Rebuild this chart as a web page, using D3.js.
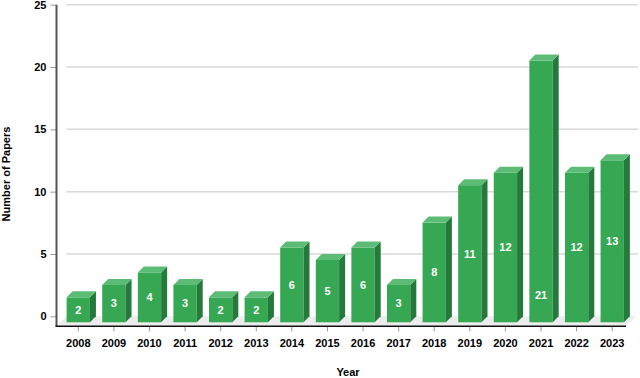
<!DOCTYPE html>
<html>
<head>
<meta charset="utf-8">
<script src="https://cdn.jsdelivr.net/npm/d3@7"></script>
<style>
  html, body { margin: 0; padding: 0; background: #fff; }
  svg { display: block; font-family: "Liberation Sans", Arial, sans-serif; }
</style>
</head>
<body>
<svg id="chart" width="640" height="378"></svg>
<script>
const years = ["2008","2009","2010","2011","2012","2013","2014","2015","2016","2017","2018","2019","2020","2021","2022","2023"];
const papers = [2, 3, 4, 3, 2, 2, 6, 5, 6, 3, 8, 11, 12, 21, 12, 13];
const yTicks = [0, 5, 10, 15, 20, 25];

const svg = d3.select("#chart");
const W = 640, H = 378;

// geometry of the 3D plot
const backLeft = 66.5, backRight = 636;
const yTopPx = 4.7, yZeroPx = 316.3;
const D = 10;   // plot depth
const d = 6;    // bar depth

const xBack = d3.scaleBand().domain(years).range([backLeft, backRight]).paddingInner(0.345).paddingOuter(0.172);
const xFront = d3.scaleBand().domain(years).range([backLeft - d, backRight - d]);
const yBack = d3.scaleLinear().domain([0, 25]).range([yZeroPx, yTopPx]);

// gridlines (back wall)
svg.append("g").selectAll("line").data(yTicks.filter(t => t > 0)).join("line")
  .attr("x1", backLeft).attr("x2", backRight + 2)
  .attr("y1", t => yBack(t)).attr("y2", t => yBack(t))
  .attr("stroke", "#d9d9d9").attr("stroke-width", 1.5);

// floor
svg.append("path")
  .attr("d", `M${backLeft},${yZeroPx}L${backRight},${yZeroPx}L${backRight - D},${yZeroPx + D}L${backLeft - D},${yZeroPx + D}Z`)
  .attr("fill", "#ececec");

// bars
const bw = xBack.bandwidth();
const bars = svg.append("g").selectAll("g").data(years.map((y, i) => ({ year: y, v: papers[i] }))).join("g");
bars.each(function (p) {
  const g = d3.select(this);
  const x = xBack(p.year) - d;
  const yt = yBack(p.v) + d;
  const yb = yBack(0) + d;
  g.append("rect").attr("x", x).attr("y", yt).attr("width", bw).attr("height", yb - yt).attr("fill", "#36a853");
  g.append("path")
    .attr("d", `M${x + bw},${yt}L${x + bw + d},${yt - d}L${x + bw + d},${yb - d}L${x + bw},${yb}Z`)
    .attr("fill", "#247a3b");
  g.append("path")
    .attr("d", `M${x},${yt}L${x + bw},${yt}L${x + bw + d},${yt - d}L${x + d},${yt - d}Z`)
    .attr("fill", "#5cbb74");
  const ly = p.v > 20 ? yb - 27 : (yt + yb) / 2;
  g.append("text")
    .attr("x", x + bw / 2).attr("y", ly).attr("dy", "0.35em")
    .attr("text-anchor", "middle").attr("fill", "#fff")
    .attr("font-weight", "bold").attr("font-size", 11)
    .text(p.v);
});

// y axis
const yAxisG = svg.append("g").attr("transform", `translate(${backLeft - D},0)`)
  .call(d3.axisLeft(yBack).tickValues(yTicks).tickSize(6).tickPadding(4));
yAxisG.select(".domain").remove();
yAxisG.selectAll(".tick line").attr("stroke", "#999");
yAxisG.selectAll(".tick text").attr("font-size", 11).attr("font-weight", "bold").attr("fill", "#000")
  .attr("font-family", "Liberation Sans, Arial, sans-serif");
svg.append("line").attr("x1", backLeft - D).attr("x2", backLeft - D)
  .attr("y1", yTopPx).attr("y2", yZeroPx + D)
  .attr("stroke", "#555").attr("stroke-width", 2);

// x axis
const xAxisG = svg.append("g").attr("transform", `translate(0,${yZeroPx + D})`)
  .call(d3.axisBottom(xFront).tickSize(5).tickPadding(8));
xAxisG.select(".domain").remove();
xAxisG.selectAll(".tick line").attr("stroke", "#999");
xAxisG.selectAll(".tick text").attr("font-size", 11).attr("font-weight", "bold").attr("fill", "#000")
  .attr("font-family", "Liberation Sans, Arial, sans-serif");
svg.append("line").attr("x1", backLeft - D - 1).attr("x2", backRight - D)
  .attr("y1", yZeroPx + D).attr("y2", yZeroPx + D)
  .attr("stroke", "#111").attr("stroke-width", 1.5);

// titles
svg.append("text").attr("x", 348).attr("y", 376).attr("text-anchor", "middle")
  .attr("font-size", 11).attr("font-weight", "bold").text("Year");
svg.append("text").attr("transform", "translate(10,174) rotate(-90)").attr("text-anchor", "middle")
  .attr("font-size", 11).attr("font-weight", "bold").text("Number of Papers");
</script>
</body>
</html>
